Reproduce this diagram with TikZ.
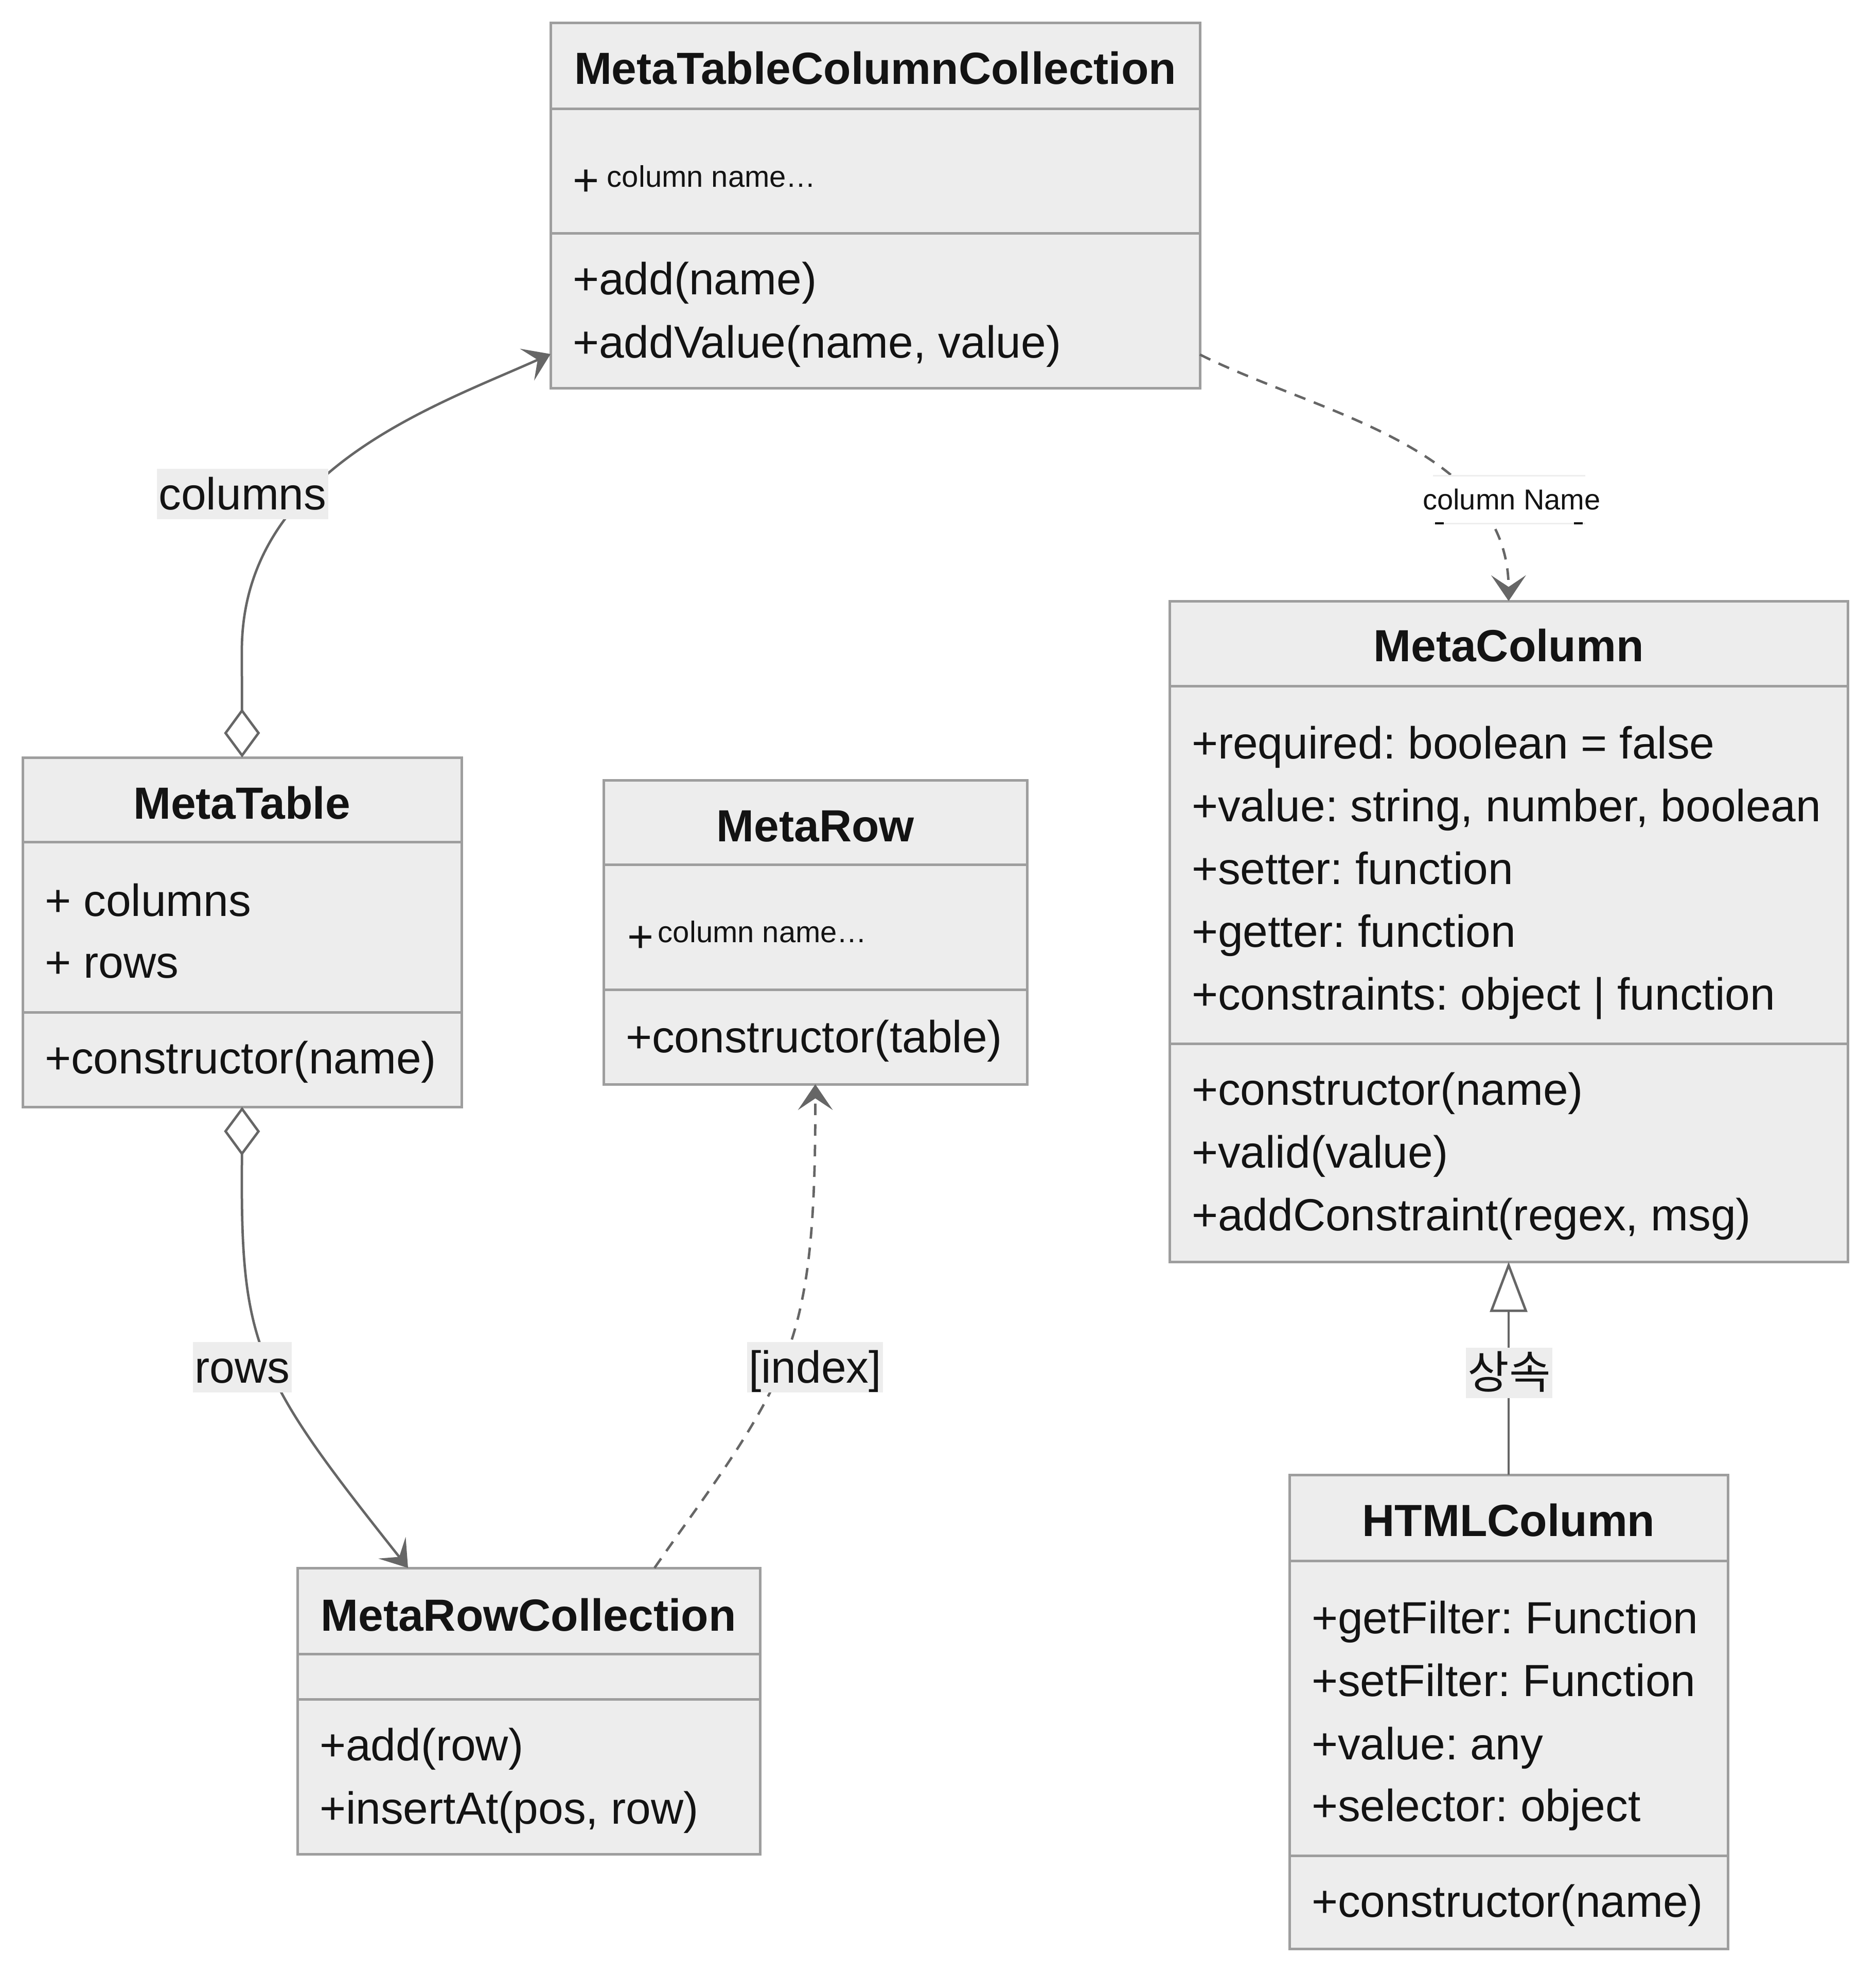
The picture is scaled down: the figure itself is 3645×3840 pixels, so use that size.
\documentclass[tikz,border=0pt]{standalone}
\usepackage{fontspec}
\setmainfont{Liberation Sans}
\newfontfamily\krfont{Noto Sans CJK KR}
\usetikzlibrary{arrows.meta,fit}
\definecolor{boxfill}{HTML}{EDEDED}
\definecolor{boxline}{HTML}{9E9E9E}
\definecolor{edgec}{HTML}{666666}
\definecolor{textc}{HTML}{131313}
\definecolor{lblbg}{HTML}{EDEDED}
\definecolor{thinline}{HTML}{EEEEEE}
\newcommand{\bigf}{\fontsize{17.5pt}{21pt}\selectfont}
\newcommand{\smallf}{\fontsize{11.6pt}{13.5pt}\selectfont}
\frenchspacing
\tikzset{
  vhead/.tip={Stealth[length=10pt,width=13.5pt,inset=4.5pt]},
  aggd/.tip={Diamond[open,fill=white,length=19pt,width=14pt]},
  inht/.tip={Triangle[open,fill=white,length=19.5pt,width=14.5pt]},
}
\begin{document}
\frenchspacing
\begin{tikzpicture}[x=0.2pt,y=-0.2pt,
  box/.style={draw=boxline, fill=boxfill, line width=1pt, inner sep=0pt, outer sep=0pt},
  divider/.style={draw=boxline, line width=1pt},
  title/.style={anchor=base, inner sep=0pt, text=textc, font=\bigf\bfseries},
  member/.style={anchor=base west, inner sep=0pt, text=textc, font=\bigf\frenchspacing},
  smalltag/.style={fill=boxfill, text=textc, inner sep=0pt, minimum width=85.4pt, minimum height=17.2pt, text height=10.5pt, text depth=2.4pt, font=\smallf},
  edge/.style={draw=edgec, line width=0.95pt},
  dashededge/.style={edge, dash pattern=on 4.5pt off 3.5pt},
  elabel/.style={fill=lblbg, text=textc, inner xsep=0.7pt, inner ysep=0pt, text height=15.8pt, text depth=3.7pt, font=\bigf},
]
\path[use as bounding box, fill=white] (0,0) rectangle (3645,3840);

% ---------- boxes ----------
\node[box, fit={(1070,44) (2332,754)}] (mtcc) {};
\node[box, fit={(2273,1168) (3591,2452)}] (mc) {};
\node[box, fit={(44,1472) (897,2151)}] (mt) {};
\node[box, fit={(1173,1516) (1996,2107)}] (mr) {};
\node[box, fit={(578,3047) (1477,3603)}] (mrc) {};
\node[box, fit={(2506,2866) (3358,3787)}] (hc) {};

% dividers
\draw[divider] (1070,211) -- (2332,211);
\draw[divider] (1070,453) -- (2332,453);
\draw[divider] (2273,1333) -- (3591,1333);
\draw[divider] (2273,2028) -- (3591,2028);
\draw[divider] (44,1636) -- (897,1636);
\draw[divider] (44,1967) -- (897,1967);
\draw[divider] (1173,1680) -- (1996,1680);
\draw[divider] (1173,1923) -- (1996,1923);
\draw[divider] (578,3214) -- (1477,3214);
\draw[divider] (578,3302) -- (1477,3302);
\draw[divider] (2506,3033) -- (3358,3033);
\draw[divider] (2506,3606) -- (3358,3606);

% ---------- MetaTableColumnCollection ----------
\node[title] (mtcc-t) at (1701,163) {MetaTableColumnCollection};
\node[member] (mtcc-p) at (1112,380) {+};
\node[smalltag] (mtcc-a1) at (1383,343) {column name…};
\node[member] (mtcc-m1) at (1112,572) {+add(name)};
\node[member] (mtcc-m2) at (1112,695) {+addValue(name, value)};

% ---------- MetaColumn ----------
\node[title] (mc-t) at (2932,1285) {MetaColumn};
\node[member] (mc-a1) at (2315,1474) {+required: boolean = false};
\node[member] (mc-a2) at (2315,1596) {+value: string, number, boolean};
\node[member] (mc-a3) at (2315,1718) {+setter: function};
\node[member] (mc-a4) at (2315,1840) {+getter: function};
\node[member] (mc-a5) at (2315,1962) {+constraints: object | function};
\node[member] (mc-m1) at (2315,2147) {+constructor(name)};
\node[member] (mc-m2) at (2315,2269) {+valid(value)};
\node[member] (mc-m3) at (2315,2391) {+addConstraint(regex, msg)};

% ---------- MetaTable ----------
\node[title] (mt-t) at (470,1591) {MetaTable};
\node[member] (mt-a1) at (86,1780) {+ columns};
\node[member] (mt-a2) at (86,1900) {+ rows};
\node[member] (mt-m1) at (86,2086) {+constructor(name)};

% ---------- MetaRow ----------
\node[title] (mr-t) at (1585,1635) {MetaRow};
\node[member] (mr-p) at (1218,1850) {+};
\node[smalltag] (mr-a1) at (1482,1811) {column name…};
\node[member] (mr-m1) at (1215,2045) {+constructor(table)};

% ---------- MetaRowCollection ----------
\node[title] (mrc-t) at (1027,3169) {MetaRowCollection};
\node[member] (mrc-m1) at (620,3421) {+add(row)};
\node[member] (mrc-m2) at (620,3544) {+insertAt(pos, row)};

% ---------- HTMLColumn ----------
\node[title] (hc-t) at (2932,2985) {HTMLColumn};
\node[member] (hc-a1) at (2548,3174) {+getFilter: Function};
\node[member] (hc-a2) at (2548,3296) {+setFilter: Function};
\node[member] (hc-a3) at (2548,3419) {+value: any};
\node[member] (hc-a4) at (2548,3539) {+selector: object};
\node[member] (hc-m1) at (2548,3725) {+constructor(name)};

% ---------- connectors ----------
\draw[edge, aggd-vhead] (mt.north) -- (470,1265)
   .. controls (470,915) and (843,790) .. ([yshift=13.2pt]mtcc.south west);
\draw[edge, aggd-vhead] (mt.south) -- (470,2300)
   .. controls (470,2622) and (509,2689) .. ([xshift=43pt]mrc.north west);
\draw[dashededge, -vhead] ([xshift=138.8pt]mrc.north west)
   .. controls (1360,2920) and (1470,2780) .. (1522,2650)
   .. controls (1570,2530) and (1585,2400) .. (mr.south);
\draw[dashededge, -vhead] ([yshift=13pt]mtcc.south east)
   .. controls (2555,801) and (2931,868) .. (mc.north);
\draw[edge, -inht] (hc.north) -- (mc.south);

% ---------- connector labels ----------
\node[elabel] (l-columns) at (471.5,960) {columns};
\node[elabel] (l-rows) at (471,2657) {rows};
\node[elabel] (l-index) at (1584,2657) {[index]};
\node[elabel, font=\bigf\krfont] (l-inh) at (2933,2668) {상속};
\node[fill=white, text=textc, inner xsep=2pt, inner ysep=0pt, minimum height=18.6pt, text height=10.1pt, text depth=2.4pt, font=\fontsize{11.2pt}{13pt}\selectfont] (l-colname) at (2938,971) {column Name};
\draw[thinline, line width=0.6pt] (2785,924) -- (3081,924);
\draw[thinline, line width=0.6pt] (2785,1017) -- (3081,1017);
\draw[black, line width=0.7pt] (2789,1017) -- (2806,1017);
\draw[black, line width=0.7pt] (3059,1017) -- (3076,1017);
\end{tikzpicture}
\end{document}
